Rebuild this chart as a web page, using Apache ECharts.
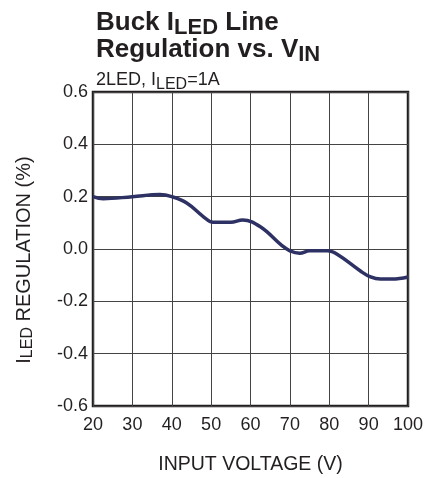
<!DOCTYPE html>
<html><head><meta charset="utf-8">
<script src="https://cdn.jsdelivr.net/npm/echarts@6/dist/echarts.min.js"></script>
<style>html,body{margin:0;padding:0;background:#fff}#c{width:425px;height:478px}</style>
</head><body><div id="c"></div>
<script>
var voltages = [20, 22.6, 30, 37, 40, 43.8, 48, 50.5, 55, 58, 62.5, 68, 70, 72.5, 75, 79.5, 82, 88, 90.5, 93, 96, 100];
var regulation = [0.200, 0.192, 0.200, 0.208, 0.200, 0.176, 0.124, 0.102, 0.102, 0.111, 0.085, 0.013, -0.007, -0.016, -0.007, -0.007, -0.020, -0.085, -0.107, -0.115, -0.115, -0.107];
var xTicks = [20, 30, 40, 50, 60, 70, 80, 90, 100];
var yTicks = [-0.6, -0.4, -0.2, 0.0, 0.2, 0.4, 0.6];

var font = 'Liberation Sans, Arial, sans-serif';
var ink = '#231f20';
var chart = echarts.init(document.getElementById('c'));
chart.setOption({
  animation: false,
  backgroundColor: '#fff',
  title: [{
    text: 'Buck I{s|LED} Line\nRegulation vs. V{s|IN}',
    left: 91, top: 4, padding: [5, 5, 5, 5],
    textStyle: {
      fontFamily: font, fontWeight: 'bold', fontSize: 26, color: ink, lineHeight: 27,
      rich: { s: { fontFamily: font, fontWeight: 'bold', fontSize: 22, color: ink, padding: [11, 0, 0, 0], lineHeight: 27 } }
    }
  }, {
    text: '2LED, I{s|LED}=1A',
    left: 91, top: 65,
    textStyle: {
      fontFamily: font, fontWeight: 'normal', fontSize: 18, color: ink, lineHeight: 20,
      rich: { s: { fontFamily: font, fontSize: 16, color: ink, padding: [9, 0, 0, 0], lineHeight: 20 } }
    }
  }],
  grid: { left: 93, right: 17, top: 92, bottom: 72, show: true, borderColor: ink, borderWidth: 2.5,
    containLabel: false, outerBoundsMode: 'none' },
  xAxis: {
    type: 'value', min: 20, max: 100, interval: 10,
    name: 'INPUT VOLTAGE (V)', nameLocation: 'middle', nameGap: 49,
    nameTextStyle: { fontFamily: font, fontSize: 19.5, color: ink },
    axisLine: { show: false }, axisTick: { show: false },
    axisLabel: { fontFamily: font, fontSize: 18, color: ink, margin: 10,
      formatter: function (v) { return xTicks.indexOf(v) >= 0 ? String(v) : ''; } },
    splitLine: { show: true, lineStyle: { color: '#444', width: 1 } }
  },
  yAxis: {
    type: 'value', min: -0.6, max: 0.6, interval: 0.2,
    name: 'I{s|LED} REGULATION (%)', nameLocation: 'middle', nameGap: 57, nameRotate: 90,
    nameTextStyle: { fontFamily: font, fontSize: 20, color: ink, padding: [0, 22, 0, 0],
      rich: { s: { fontFamily: font, fontSize: 16, color: ink, padding: [8, 0, 0, 0] } } },
    axisLine: { show: false }, axisTick: { show: false },
    axisLabel: { fontFamily: font, fontSize: 18, color: ink, margin: 5,
      formatter: function (v) {
        for (var i = 0; i < yTicks.length; i++) { if (Math.abs(yTicks[i] - v) < 1e-6) return yTicks[i].toFixed(1); }
        return '';
      } },
    splitLine: { show: true, lineStyle: { color: '#444', width: 1 } }
  },
  series: [{
    type: 'line', smooth: 0.4, symbol: 'none',
    data: voltages.map(function (v, i) { return [v, regulation[i]]; }),
    lineStyle: { color: '#2e3163', width: 3.5 }
  }]
});
</script></body></html>
